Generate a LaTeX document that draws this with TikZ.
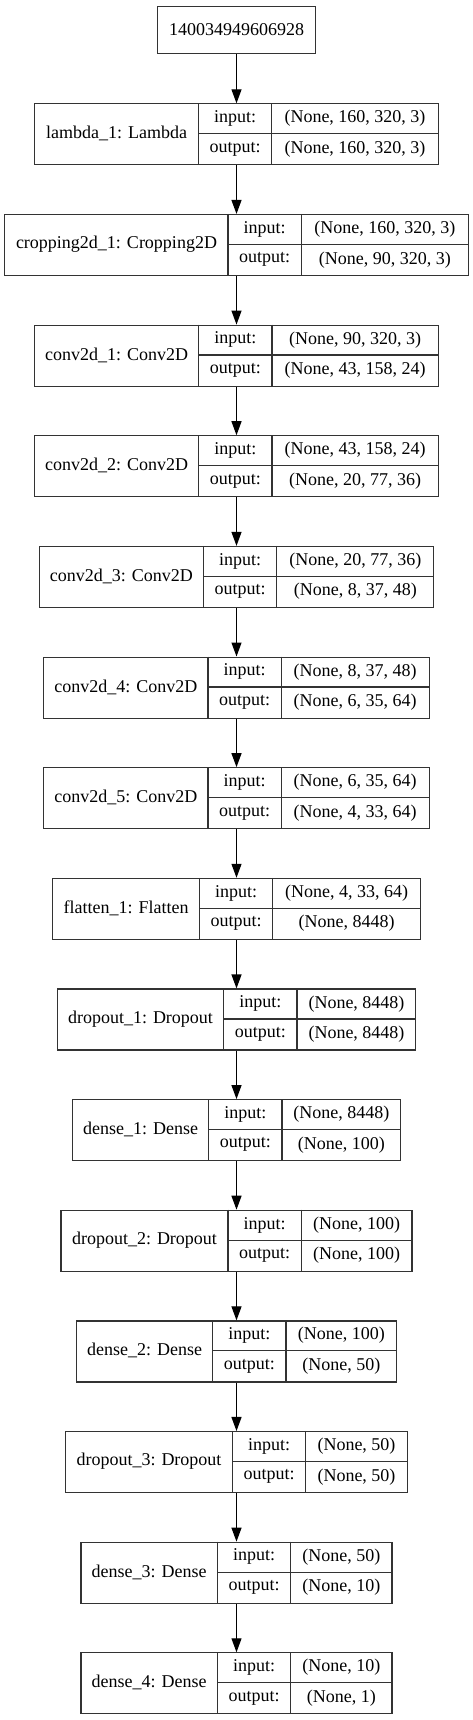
\documentclass[tikz,border=0pt]{standalone}
\usepackage{fontspec}
\setmainfont{Liberation Serif}
\usetikzlibrary{arrows.meta}
\tikzset{
  boxline/.style={draw=black!80, line width=1.2pt},
  txt/.style={inner sep=0pt, font=\fontsize{18}{20}\selectfont},
  outer/.style={boxline, rectangle, inner sep=0pt, anchor=north},
  conn/.style={draw=black, line width=1.2pt, -{Triangle[length=14pt,width=10pt]}},
}
\newcommand\layer[9]{%
  % #1 name, #2 row, #3 x0, #4 x1, #5 x2, #6 x3, #7 label, #8 in, #9 out
  \pgfmathsetmacro\Ty{103.3+110.64*#2}%
  \pgfmathsetmacro\My{\Ty+30.5}%
  \pgfmathsetmacro\By{\Ty+61}%
  \pgfmathsetmacro\W{#6-#3}%
  \node[outer, minimum width=\W pt, minimum height=61pt] (#1) at (236.5,\Ty) {};
  \draw[boxline] (#4,\Ty) -- (#4,\By) (#5,\Ty) -- (#5,\By) (#4,\My) -- (#6,\My);
  \node[txt] (#1-lab) at ({(#3+#4)/2},\My) {#7};
  \node[txt] (#1-ik) at ({(#4+#5)/2},{\Ty+15.25}) {input:};
  \node[txt] (#1-ok) at ({(#4+#5)/2},{\Ty+45.75}) {output:};
  \node[txt] (#1-iv) at ({(#5+#6)/2},{\Ty+15.25}) {#8};
  \node[txt] (#1-ov) at ({(#5+#6)/2},{\Ty+45.75}) {#9};
}
\begin{document}
\begin{tikzpicture}[x=1pt,y=-1pt]
\useasboundingbox (0,0) rectangle (473,1720);
\node[outer, minimum width=157.3pt, minimum height=47.6pt, txt, draw=black!80, line width=1.2pt] (in) at (236.5,5.7) {140034949606928};
\layer{L0}{0}{34.7}{198.7}{271.7}{438.3}{lambda\_1: Lambda}{(None, 160, 320, 3)}{(None, 160, 320, 3)}
\layer{L1}{1}{5}{228}{301.3}{468.3}{cropping2d\_1: Cropping2D}{(None, 160, 320, 3)}{(None, 90, 320, 3)}
\layer{L2}{2}{34.7}{198.7}{272}{438.3}{conv2d\_1: Conv2D}{(None, 90, 320, 3)}{(None, 43, 158, 24)}
\layer{L3}{3}{34.7}{198.7}{272}{438.3}{conv2d\_2: Conv2D}{(None, 43, 158, 24)}{(None, 20, 77, 36)}
\layer{L4}{4}{39.3}{203.3}{276.7}{434}{conv2d\_3: Conv2D}{(None, 20, 77, 36)}{(None, 8, 37, 48)}
\layer{L5}{5}{43.7}{208}{281.3}{429}{conv2d\_4: Conv2D}{(None, 8, 37, 48)}{(None, 6, 35, 64)}
\layer{L6}{6}{43.7}{208}{281.3}{429}{conv2d\_5: Conv2D}{(None, 6, 35, 64)}{(None, 4, 33, 64)}
\layer{L7}{7}{52.7}{199.3}{272.7}{420.7}{flatten\_1: Flatten}{(None, 4, 33, 64)}{(None, 8448)}
\layer{L8}{8}{57.3}{223.7}{297}{416}{dropout\_1: Dropout}{(None, 8448)}{(None, 8448)}
\layer{L9}{9}{72.7}{208.7}{282}{400.7}{dense\_1: Dense}{(None, 8448)}{(None, 100)}
\layer{L10}{10}{61}{228}{301.3}{412}{dropout\_2: Dropout}{(None, 100)}{(None, 100)}
\layer{L11}{11}{76.7}{212.7}{286}{396.7}{dense\_2: Dense}{(None, 100)}{(None, 50)}
\layer{L12}{12}{65.7}{232.3}{305.7}{407.3}{dropout\_3: Dropout}{(None, 50)}{(None, 50)}
\layer{L13}{13}{81}{217.3}{290.7}{392}{dense\_3: Dense}{(None, 50)}{(None, 10)}
\layer{L14}{14}{81}{217.3}{290.7}{392}{dense\_4: Dense}{(None, 10)}{(None, 1)}
\draw[conn] (in.south) -- (L0.north);
\foreach \a/\b in {L0/L1,L1/L2,L2/L3,L3/L4,L4/L5,L5/L6,L6/L7,L7/L8,L8/L9,L9/L10,L10/L11,L11/L12,L12/L13,L13/L14}
  \draw[conn] (\a.south) -- (\b.north);
\end{tikzpicture}
\end{document}
